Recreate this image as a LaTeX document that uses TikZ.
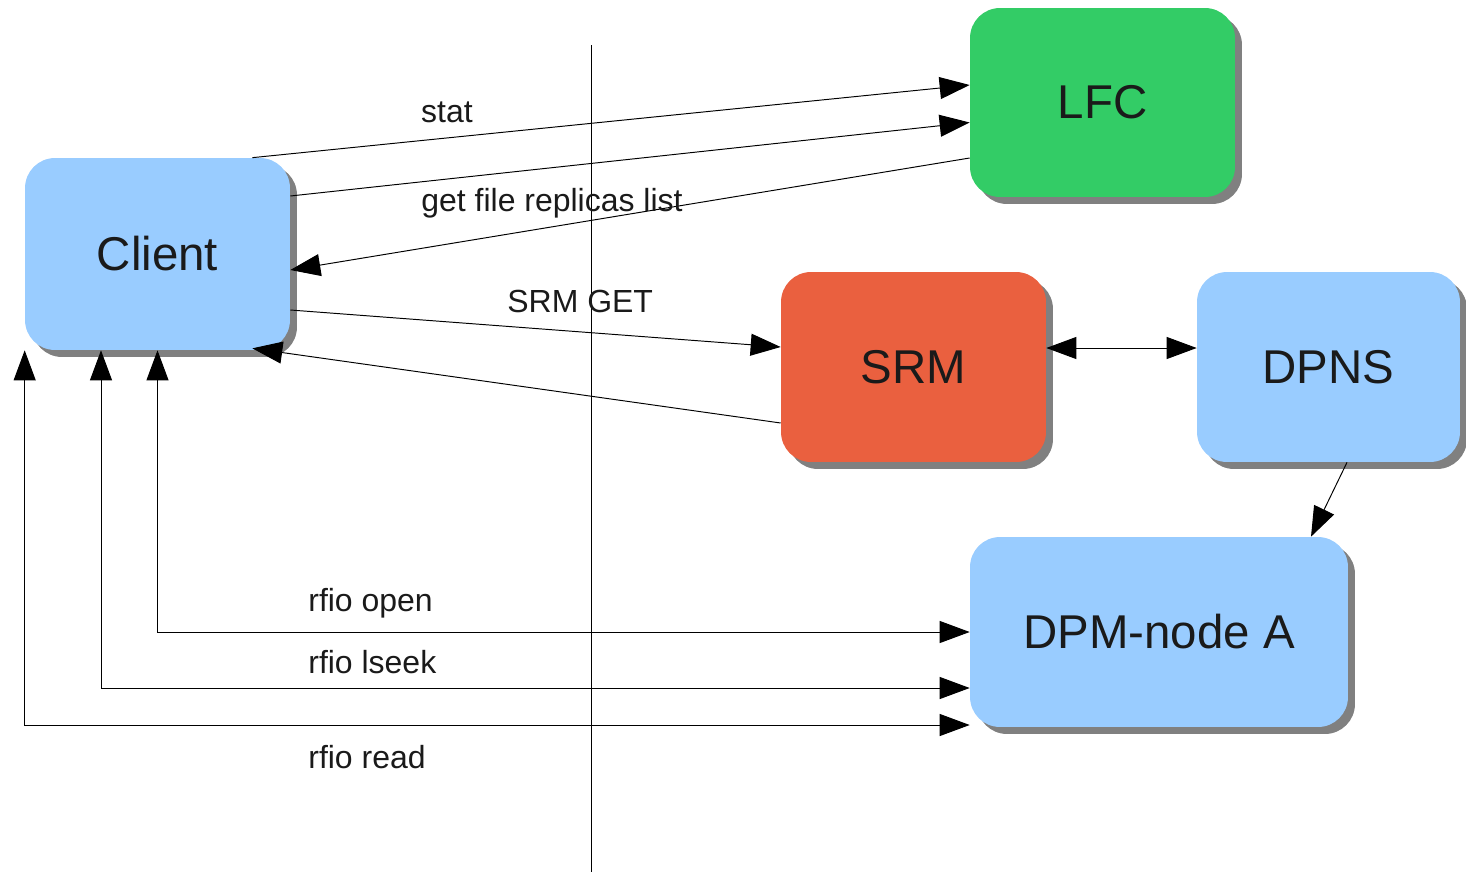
\documentclass[tikz,border=0pt]{standalone}
\usepackage{fontspec}
\setmainfont{Liberation Sans}
\usetikzlibrary{arrows.meta,shadows,calc}
\definecolor{boxblue}{HTML}{99CCFF}
\definecolor{boxgreen}{HTML}{33CC66}
\definecolor{boxred}{HTML}{EA603F}
\definecolor{shadowgray}{HTML}{808080}
\definecolor{txt}{HTML}{1A1A1A}
\tikzset{
  box/.style={rounded corners=0.6cm, draw=none, text=txt,
    font=\fontsize{27}{32}\selectfont, minimum height=3.8cm,
    drop shadow={shadow xshift=0.14cm, shadow yshift=-0.14cm, fill=shadowgray, opacity=1}},
  conn/.style={line width=0.55pt, >={Triangle[length=0.6cm,width=0.44cm]}},
  lbl/.style={font=\fontsize{18.2}{22}\selectfont, text=txt, inner sep=0pt},
}
\begin{document}
\begin{tikzpicture}[x=0.02cm,y=-0.02cm]
\useasboundingbox (0,0) rectangle (1466,872);
% divider
\coordinate (vtop) at (591,45);
\coordinate (vbot) at (591,872);
\draw[line width=0.55pt] (vtop) -- (vbot);
% boxes
\node[box, fill=boxblue, minimum width=5.3cm, minimum height=3.84cm] (client) at (157.5,254) {Client};
\node[box, fill=boxgreen, minimum width=5.3cm, minimum height=3.78cm] (lfc) at (1102.5,102.5) {LFC};
\node[box, fill=boxred, minimum width=5.3cm] (srm) at (913.5,367) {SRM};
\node[box, fill=boxblue, minimum width=5.26cm] (dpns) at (1328.5,367) {DPNS};
\node[box, fill=boxblue, minimum width=7.56cm] (dpm) at (1159,632) {DPM-node A};
% connectors
\draw[conn,->] ($(client.north east)+(-38,0)$) -- ($(lfc.west)+(0,-17.5)$);
\draw[conn,->] ($(client.east)+(0,-58)$) -- ($(lfc.west)+(0,20)$);
\draw[conn,->] ($(lfc.west)+(0,55.5)$) -- ($(client.east)+(0,16)$);
\draw[conn,->] ($(client.east)+(0,56)$) -- ($(srm.west)+(0,-20)$);
\draw[conn,->] ($(srm.west)+(0,56)$) -- ($(client.south east)+(-38,-2)$);
\draw[conn,<->] ($(srm.east)+(0,-19)$) -- ($(dpns.west)+(0,-19)$);
\draw[conn,->] ($(dpns.south)+(18.5,0)$) -- ($(dpm.north)+(152,0)$);
\draw[conn,<->] (client.south) |- (dpm.west);
\draw[conn,<->] ($(client.south)+(-56.5,0)$) |- ($(dpm.west)+(0,56)$);
\draw[conn,<->] (client.south west) |- ($(dpm.west)+(0,93)$);
% labels
\node[lbl] (lstat) at (447,112) {stat};
\node[lbl, anchor=west] (lrep) at (421,203) {get file replicas list};
\node[lbl, anchor=west] (lsrm) at (507,301) {SRM GET};
\node[lbl, anchor=west] (lopen) at (308,603) {rfio open};
\node[lbl, anchor=west] (lseek) at (308,662) {rfio lseek};
\node[lbl, anchor=west] (lread) at (308,757) {rfio read};
\end{tikzpicture}
\end{document}
